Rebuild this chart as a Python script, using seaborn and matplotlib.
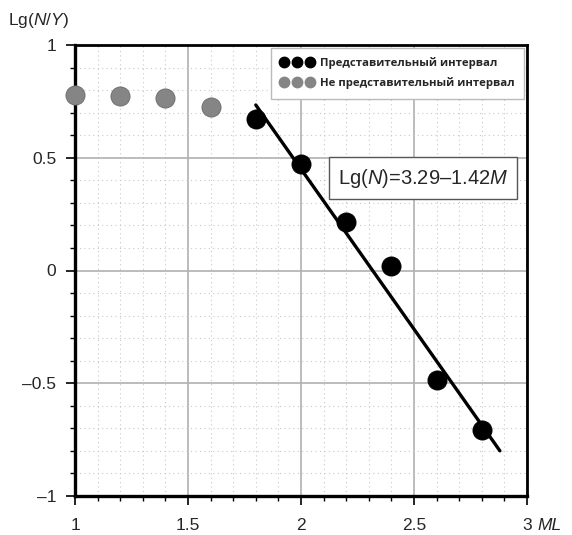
import matplotlib
matplotlib.use("Agg")
import matplotlib.pyplot as plt
from matplotlib.lines import Line2D
from matplotlib.ticker import MultipleLocator, FixedLocator
import seaborn as sns
import pandas as pd
import numpy as np

# Data
ml_nonrep = [1.0, 1.2, 1.4, 1.6]
lg_nonrep = [0.778, 0.774, 0.765, 0.725]
ml_rep = [1.8, 2.0, 2.2, 2.4, 2.6, 2.8]
lg_rep = [0.672, 0.472, 0.215, 0.02, -0.486, -0.707]
fit_a = 3.29
fit_b = -1.42
fit_range = [1.8, 2.88]
x_ticks = [1, 1.5, 2, 2.5, 3]
x_ticklabels = ["1", "1.5", "2", "2.5", "3"]
y_ticks = [1, 0.5, 0, -0.5, -1]
y_ticklabels = ["1", "0.5", "0", "\u20130.5", "\u20131"]
legend_labels = ["Представительный интервал", "Не представительный интервал"]

sns.set_style("white")
plt.rcParams['font.family'] = ['Liberation Sans', 'DejaVu Sans']
plt.rcParams['mathtext.fontset'] = 'custom'
plt.rcParams['mathtext.rm'] = 'Liberation Sans'
plt.rcParams['mathtext.it'] = 'Liberation Sans:italic'

fig = plt.figure(figsize=(5.72, 5.35), dpi=100)
ax = fig.add_axes([75/572, 1-496/535, 452/572, 451/535])

df_non = pd.DataFrame({"ML": ml_nonrep, "lg": lg_nonrep})
df_rep = pd.DataFrame({"ML": ml_rep, "lg": lg_rep})
xs = np.array(fit_range)
df_fit = pd.DataFrame({"ML": xs, "lg": fit_a + fit_b * xs})

sns.scatterplot(data=df_non, x="ML", y="lg", ax=ax, s=190, color="#858585",
                edgecolor="#6a6a6a", linewidth=0.6, zorder=4, legend=False, clip_on=False)
sns.scatterplot(data=df_rep, x="ML", y="lg", ax=ax, s=190, color="black",
                edgecolor="black", linewidth=0.6, zorder=4, legend=False)
sns.lineplot(data=df_fit, x="ML", y="lg", ax=ax, color="black", lw=2.4, zorder=5)

ax.set_xlim(1, 3)
ax.set_ylim(-1, 1)
ax.xaxis.set_major_locator(FixedLocator(x_ticks))
ax.set_xticklabels(x_ticklabels)
ax.yaxis.set_major_locator(FixedLocator(y_ticks))
ax.set_yticklabels(y_ticklabels)
ax.xaxis.set_minor_locator(MultipleLocator(0.1))
ax.yaxis.set_minor_locator(MultipleLocator(0.1))

ax.grid(which="major", color="#b0b0b0", lw=1.2, zorder=0)
ax.grid(which="minor", color="#c8c8c8", lw=0.8, ls=(0, (1, 3)), zorder=0)
ax.set_axisbelow(True)

for s in ax.spines.values():
    s.set_color("black")
    s.set_linewidth(2.0)
ax.spines['left'].set_linewidth(2.4)
ax.spines['bottom'].set_linewidth(2.4)

ax.tick_params(which="major", direction="out", length=6.5, width=1.2, color="black",
               labelsize=12.5, bottom=True, left=True)
ax.tick_params(which="minor", direction="out", length=3.5, width=1.0, color="black",
               bottom=True, left=True)
ax.tick_params(axis="x", which="major", pad=9)
ax.tick_params(axis="y", which="major", pad=7)

ax.set_xlabel("")
ax.set_ylabel("")
fig.text(550/572, 1-526/535, "ML", fontsize=12.5, style="italic", ha="center", va="center")
fig.text(8/572, 1-20/535, "Lg($N$/$Y$)", fontsize=12.5, ha="left", va="center")

handles = [Line2D([], [], marker="o", ls="", color="black", markersize=7.5),
           Line2D([], [], marker="o", ls="", color="#858585", markersize=7.5)]
leg = ax.legend(handles, legend_labels, loc="upper right", numpoints=3,
                prop={"weight": "bold", "size": 8.2, "family": "Open Sans"},
                frameon=True, fancybox=False, edgecolor="#bbbbbb", framealpha=1,
                borderaxespad=0.25, handletextpad=0.6, handlelength=2.9,
                labelspacing=0.75, borderpad=0.8)
leg.get_frame().set_linewidth(1.0)
leg.set_zorder(6)

ax.text(0.958, 0.705, "Lg($N$)=3.29\u20131.42$M$", transform=ax.transAxes,
        fontsize=14.5, ha="right", va="center", zorder=6,
        bbox=dict(boxstyle="square,pad=0.45", fc="white", ec="#555555", lw=1.0))

fig.savefig("out.png", dpi=100)
